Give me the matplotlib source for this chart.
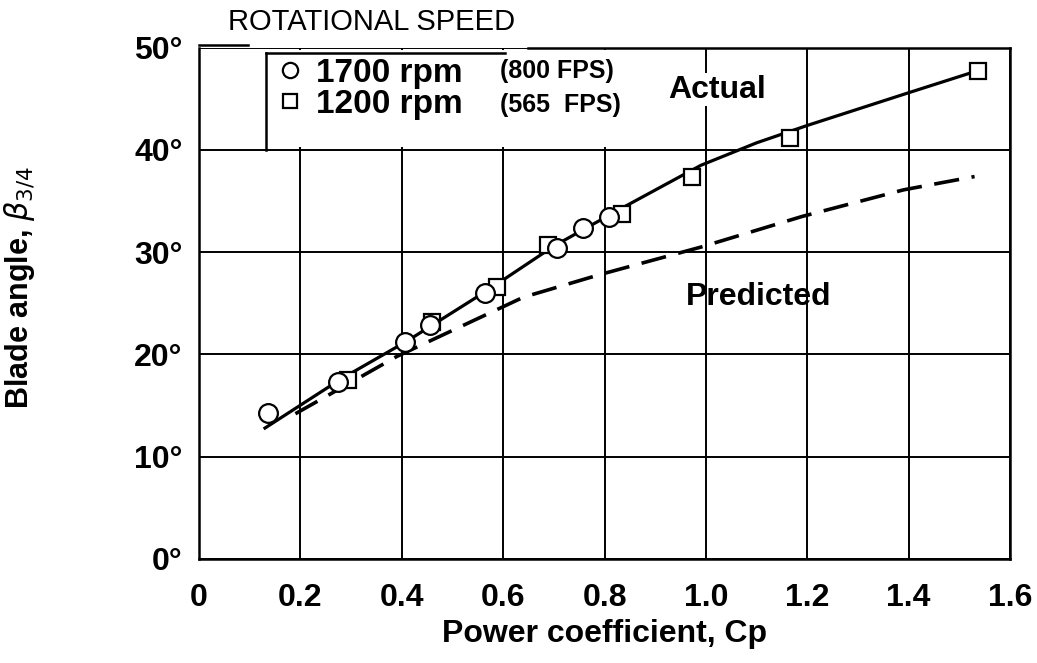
import matplotlib
matplotlib.use("Agg")
import matplotlib.pyplot as plt
from matplotlib.lines import Line2D
from matplotlib.patches import Rectangle

plt.rcParams['font.family'] = ['Liberation Sans', 'DejaVu Sans']

# measured points
cp_1700 = [0.136, 0.274, 0.406, 0.456, 0.564, 0.706, 0.757, 0.809]
beta_1700 = [14.3, 17.3, 21.2, 22.9, 26.0, 30.4, 32.4, 33.4]

cp_1200 = [0.294, 0.460, 0.588, 0.688, 0.834, 0.972, 1.166, 1.536]
beta_1200 = [17.5, 23.2, 26.6, 30.7, 33.7, 37.4, 41.2, 47.7]

# faired curve through the test data
cp_actual = [0.13, 0.28, 0.41, 0.57, 0.70, 0.83, 0.99, 1.10, 1.20, 1.40, 1.52]
beta_actual = [12.8, 17.6, 21.3, 26.3, 30.6, 34.2, 38.5, 40.7, 42.4, 45.6, 47.5]

# prediction
cp_pred = [0.19, 0.39, 0.64, 0.79, 0.99, 1.19, 1.39, 1.53]
beta_pred = [14.2, 19.8, 25.6, 27.8, 30.5, 33.5, 36.1, 37.4]

xticks = [0, 0.2, 0.4, 0.6, 0.8, 1.0, 1.2, 1.4, 1.6]
xticklabels = ['0', '0.2', '0.4', '0.6', '0.8', '1.0', '1.2', '1.4', '1.6']
yticks = [0, 10, 20, 30, 40, 50]
yticklabels = ['0°', '10°', '20°', '30°', '40°', '50°']

fig = plt.figure(figsize=(10.37, 6.63), dpi=100)
ax = fig.add_axes([0.192, 0.157, 0.782, 0.771])

ax.set_xlim(0, 1.6)
ax.set_ylim(0, 50)
ax.set_xticks(xticks)
ax.set_xticklabels(xticklabels)
ax.set_yticks(yticks)
ax.set_yticklabels(yticklabels)
ax.tick_params(length=0, labelsize=23)
ax.tick_params(axis='x', pad=17)
ax.tick_params(axis='y', pad=12)
for lab in ax.get_xticklabels() + ax.get_yticklabels():
    lab.set_fontweight('bold')

ax.set_axisbelow(True)
ax.grid(True, color='black', linewidth=1.4)
for s in ['left', 'right', 'bottom']:
    ax.spines[s].set_linewidth(1.8)
ax.spines['top'].set_visible(False)
# broken top frame
ax.plot([0, 0.06], [1.005, 1.005], color='black', lw=1.8, transform=ax.transAxes, clip_on=False)
ax.plot([0.406, 1.0], [1.0, 1.0], color='black', lw=1.8, transform=ax.transAxes, clip_on=False)

# legend area (blanks grid above 40 deg)
ax.add_patch(Rectangle((0.083, 0.805), 0.49, 0.19, transform=ax.transAxes,
                       facecolor='white', edgecolor='none', zorder=1))
ax.plot([0.083, 0.083], [0.80, 0.99], color='black', lw=1.8, transform=ax.transAxes, zorder=1.5)
ax.plot([0.083, 0.377], [0.99, 0.99], color='black', lw=1.8, transform=ax.transAxes, zorder=1.5)

ax.plot(cp_actual, beta_actual, color='black', lw=2.3, zorder=3)
ax.plot(cp_pred, beta_pred, color='black', lw=2.6, linestyle=(0, (7, 3.5)), zorder=3)
ax.plot(cp_1200, beta_1200, linestyle='none', marker='s', markersize=12,
        markerfacecolor='white', markeredgecolor='black', markeredgewidth=1.6, zorder=4)
ax.plot(cp_1700, beta_1700, linestyle='none', marker='o', markersize=13.5,
        markerfacecolor='white', markeredgecolor='black', markeredgewidth=1.6, zorder=5)

handles = [Line2D([], [], linestyle='none', marker='o', markersize=11, markerfacecolor='white',
                  markeredgecolor='black', markeredgewidth=1.6),
           Line2D([], [], linestyle='none', marker='s', markersize=9.5, markerfacecolor='white',
                  markeredgecolor='black', markeredgewidth=1.6)]
leg = ax.legend(handles, ['1700 rpm', '1200 rpm'], loc='upper left', bbox_to_anchor=(0.093, 0.98),
                frameon=False, prop={'size': 24, 'weight': 'bold'}, borderpad=0, borderaxespad=0,
                handlelength=0.9, handletextpad=0.35, labelspacing=0.0)
leg.set_zorder(6)

ax.text(0.371, 0.955, '(800 FPS)', transform=ax.transAxes, fontsize=18, fontweight='bold',
        va='center', ha='left', zorder=6)
ax.text(0.371, 0.887, '(565  FPS)', transform=ax.transAxes, fontsize=18, fontweight='bold',
        va='center', ha='left', zorder=6)

ax.text(0.925, 45.9, 'Actual', fontsize=23, fontweight='bold', va='center', ha='left', zorder=6,
        bbox=dict(facecolor='white', edgecolor='none', pad=1))
ax.text(0.96, 25.6, 'Predicted', fontsize=23, fontweight='bold', va='center', ha='left', zorder=6)

ax.text(0.036, 1.05, 'ROTATIONAL SPEED', transform=ax.transAxes, fontsize=21,
        va='center', ha='left')

ax.set_xlabel('Power coefficient, Cp', fontsize=23, fontweight='bold')
ax.xaxis.set_label_coords(0.5, -0.118)
ax.xaxis.label.set_va('top')
ax.set_ylabel(r'Blade angle, $\beta_{3/4}$', fontsize=22, fontweight='bold')
ax.yaxis.set_label_coords(-0.2, 0.53)

fig.savefig('out.png', dpi=100)
